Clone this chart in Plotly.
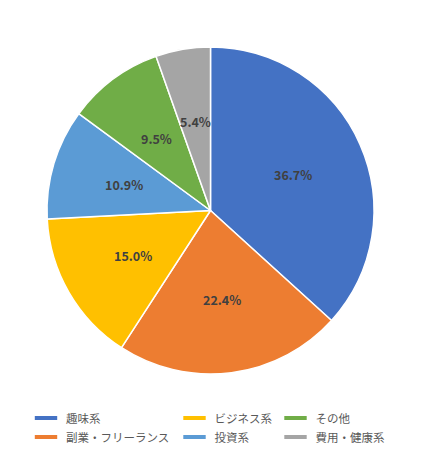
import math
import plotly.graph_objects as go

labels = ["趣味系", "副業・フリーランス", "ビジネス系", "投資系", "その他", "費用・健康系"]
values = [36.7, 22.4, 15.0, 10.9, 9.5, 5.4]
colors = ["#4472C4", "#ED7D31", "#FFC000", "#5B9BD5", "#70AD47", "#A5A5A5"]

# legend columns as in the original (column-major)
legend_cols = [[0, 1], [2, 3], [4, 5]]

font = "Noto Sans CJK JP"
W, H = 421, 450
dom_x = [39 / W, 366 / W]
dom_y = [1 - 366 / H, 1 - 39 / H]

fig = go.Figure()
fig.add_trace(go.Pie(
    labels=labels,
    values=values,
    sort=False,
    direction="clockwise",
    rotation=0,
    domain=dict(x=dom_x, y=dom_y),
    marker=dict(colors=colors, line=dict(color="white", width=1.5)),
    textinfo="none",
    showlegend=False,
    hoverinfo="label+value",
))

# data labels, placed like Excel at about 55% of the radius, slice middle
total = sum(values)
cum = 0
for v in values:
    ang = (cum + v / 2) / total * 2 * math.pi
    cum += v
    fig.add_annotation(
        x=0.55 * math.sin(ang), y=0.55 * math.cos(ang),
        xref="x", yref="y",
        text=f"{v:.1f}%",
        showarrow=False,
        font=dict(family=font, size=12.5, color="#404040", weight="bold"),
    )

legend_names = ["legend", "legend2", "legend3"]
for col, lg in zip(legend_cols, legend_names):
    for i in col:
        fig.add_trace(go.Scatter(
            x=[None], y=[None],
            mode="markers",
            name=labels[i],
            legend=lg,
            marker=dict(symbol="line-ew", size=16,
                        line=dict(color=colors[i], width=4)),
        ))

legend_x = [18 / W, 166.5 / W, 267.5 / W]
leg_common = dict(
    orientation="v",
    yanchor="top",
    y=1 - 395.5 / H,
    xanchor="left",
    font=dict(family=font, size=11.5, color="#595959"),
    bgcolor="rgba(0,0,0,0)",
    itemwidth=30,
    tracegroupgap=0,
)

fig.update_layout(
    width=W,
    height=H,
    margin=dict(l=0, r=0, t=0, b=0),
    paper_bgcolor="white",
    plot_bgcolor="rgba(0,0,0,0)",
    xaxis=dict(visible=False, domain=dom_x, range=[-1, 1], fixedrange=True),
    yaxis=dict(visible=False, domain=dom_y, range=[-1, 1], fixedrange=True),
    legend=dict(x=legend_x[0], **leg_common),
    legend2=dict(x=legend_x[1], **leg_common),
    legend3=dict(x=legend_x[2], **leg_common),
)

fig.write_html("out.html")
